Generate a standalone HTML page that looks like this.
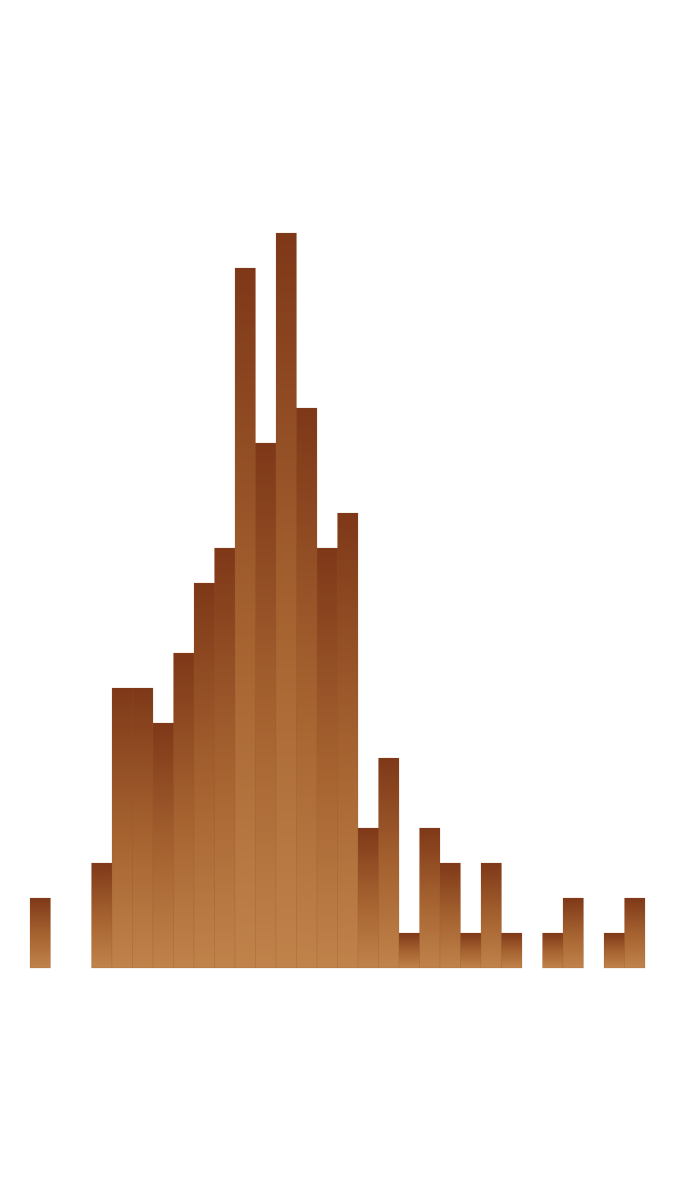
<!DOCTYPE html>
<html>
<head>
<meta charset="utf-8">
<style>
  html,body{margin:0;padding:0;background:#ffffff;}
  body{width:675px;height:1200px;overflow:hidden;font-family:"Liberation Sans",sans-serif;}
  svg{display:block;}
</style>
</head>
<body>
<svg id="chart" width="675" height="1200" viewBox="0 0 675 1200" xmlns="http://www.w3.org/2000/svg">
  <defs>
    <linearGradient id="barGrad" x1="0" y1="0" x2="0" y2="1">
      <stop offset="0" stop-color="#7e3818"/>
      <stop offset="0.5" stop-color="#a4612f"/>
      <stop offset="1" stop-color="#c0834a"/>
    </linearGradient>
  </defs>
  <g id="bars"></g>
</svg>
<script>
const binIndex = [0,1,2,3,4,5,6,7,8,9,10,11,12,13,14,15,16,17,18,19,20,21,22,23,24,25,26,27,28,29];
const counts = [2,0,0,3,8,8,7,9,11,12,20,15,21,16,12,13,4,6,1,4,3,1,3,1,0,1,2,0,1,2];

const xLeft = 30, xRight = 645, baseY = 968, unitPx = 35;
const bw = (xRight - xLeft) / binIndex.length;
function xScale(i){ return xLeft + i * bw; }
function yScale(v){ return baseY - v * unitPx; }

const g = document.getElementById('bars');
const ns = 'http://www.w3.org/2000/svg';
binIndex.forEach((b, i) => {
  const v = counts[i];
  if (v <= 0) return;
  const r = document.createElementNS(ns, 'rect');
  r.setAttribute('x', xScale(b));
  r.setAttribute('y', yScale(v));
  r.setAttribute('width', bw);
  r.setAttribute('height', baseY - yScale(v));
  r.setAttribute('fill', 'url(#barGrad)');
  r.setAttribute('stroke', 'rgba(150,80,40,0.35)');
  r.setAttribute('stroke-width', '0.5');
  
  
  g.appendChild(r);
});
</script>
</body>
</html>
